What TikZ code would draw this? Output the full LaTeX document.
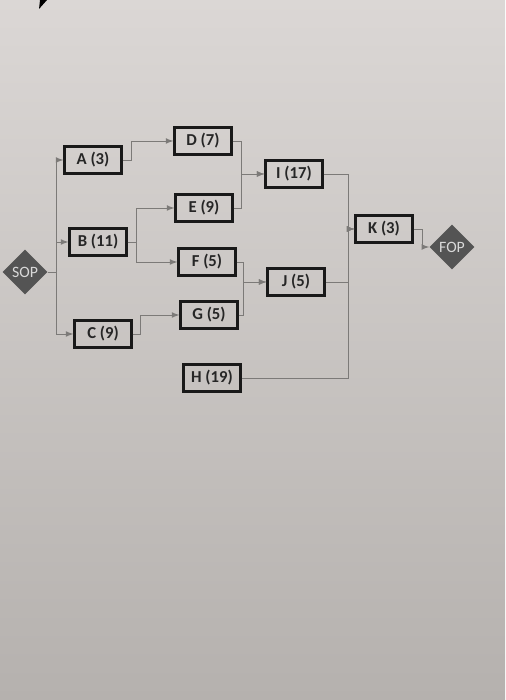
\documentclass[tikz,border=0pt]{standalone}
\usepackage{fontspec}
\setmainfont{Carlito}
\usepackage{xcolor}
\usetikzlibrary{arrows,shapes}
\definecolor{paperTop}{HTML}{DBD7D5}
\definecolor{paperMid}{HTML}{CBC7C5}
\definecolor{paperBot}{HTML}{B5B1AE}
\definecolor{milestonegray}{HTML}{545454}
\definecolor{linkgray}{HTML}{7C7A78}
\definecolor{pin}{HTML}{5A3C22}
\tikzstyle{task}=[rectangle,draw=black!90,line width=1.3pt,minimum width=1.14cm,minimum height=0.54cm,inner sep=2pt,font=\fontsize{9.5}{11}\selectfont\bfseries,text=black!85]
\tikzstyle{milestone}=[diamond,fill=milestonegray,minimum width=0.9cm,minimum height=0.9cm,inner sep=0pt,font=\small,text=white!85!black]
\tikzstyle{edge} = [draw,line width=0.5pt,->,>=latex,linkgray]

\begin{document}
\begin{tikzpicture}

  \def\u{0.02};

  % paper
  \shade[top color=paperTop, middle color=paperMid, bottom color=paperBot] (0,0) rectangle (505*\u, -700*\u);
  \useasboundingbox (0,0) rectangle (505*\u, -700*\u);
  \fill[pin] (40*\u, 0) -- (47*\u, 0) -- (39*\u, -9*\u) -- cycle;

  % start and finish
  \foreach \x/\y/\name/\label in {25/272/SOP/SOP, 452/247/FOP/FOP}
     \node[milestone] (\name) at (\x*\u, -\y*\u) {\label};

  % activities
  \foreach \x/\y/\name/\label in {93/160/A/A (3), 98/242/B/B (11), 103/334/C/C (9)}
     \node[task] (\name) at (\x*\u, -\y*\u) {\label};

  \foreach \x/\y/\name/\label in {203/141/D/D (7), 204/208/E/E (9), 207/262/F/F (5), 209/315/G/G (5), 212/378/H/H (19)}
     \node[task] (\name) at (\x*\u, -\y*\u) {\label};

  \foreach \x/\y/\name/\label in {294/174/I/I (17), 296/282/J/J (5), 384/229/K/K (3)}
     \node[task] (\name) at (\x*\u, -\y*\u) {\label};

  % junction columns
  \foreach \name/\x in {jS/56, jA/131, jB/136, jC/140, jD/241, jF/243, jI/348, jK/422}
     \coordinate (\name) at (\x*\u, 0);

  % links
  \foreach \source/\dest/\join in {SOP/A/jS, SOP/B/jS, SOP/C/jS, A/D/jA, B/E/jB, B/F/jB, C/G/jC}
     \path[edge] (\source.east) -- (\source.east -| \join) |- (\dest.west);

  \foreach \source/\dest/\join in {D/I/jD, E/I/jD, F/J/jF, G/J/jF, I/K/jI, J/K/jI, H/K/jI, K/FOP/jK}
     \path[edge] (\source.east) -- (\source.east -| \join) |- (\dest.west);

\end{tikzpicture}
\end{document}
